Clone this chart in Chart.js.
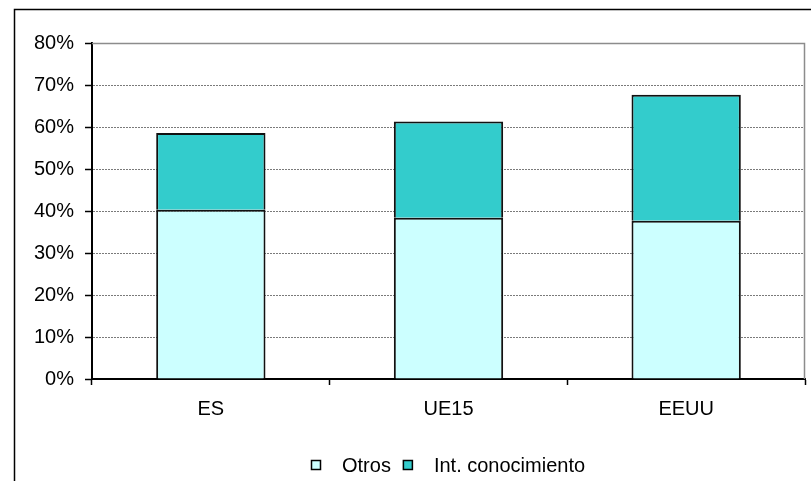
<!DOCTYPE html>
<html>
<head>
<meta charset="utf-8">
<script src="https://cdn.jsdelivr.net/npm/chart.js@4/dist/chart.umd.min.js"></script>
<style>
  html, body { margin: 0; padding: 0; background: #ffffff; }
  #wrap { width: 811px; height: 481px; position: relative; }
</style>
</head>
<body>
<div id="wrap"><canvas id="c" width="811" height="481"></canvas></div>
<script>
const categories = ['ES', 'UE15', 'EEUU'];
const otros = [40.3, 38.4, 37.7];
const intConocimiento = [18.3, 22.9, 30.0];
const seriesNames = ['Otros', 'Int. conocimiento'];
const yTicks = [0, 10, 20, 30, 40, 50, 60, 70, 80];

const FONT = '"Liberation Sans", Arial, sans-serif';

const framePlugin = {
  id: 'frame',
  beforeDatasetsDraw(chart) {
    const ctx = chart.ctx, a = chart.chartArea;
    ctx.save();
    ctx.strokeStyle = '#8c8c8c';
    ctx.lineWidth = 1.5;
    ctx.beginPath();
    ctx.moveTo(a.left, a.top + 0.5);
    ctx.lineTo(a.right - 0.5, a.top + 0.5);
    ctx.lineTo(a.right - 0.5, a.bottom);
    ctx.stroke();
    ctx.restore();
  },
  afterDraw(chart) {
    const ctx = chart.ctx, a = chart.chartArea;
    ctx.save();
    ctx.strokeStyle = '#000';
    ctx.lineWidth = 1.5;
    ctx.beginPath();
    ctx.moveTo(14.5, 481);
    ctx.lineTo(14.5, 9.5);
    ctx.lineTo(811, 9.5);
    ctx.stroke();
    ctx.font = '20px ' + FONT;
    ctx.textBaseline = 'middle';
    ctx.textAlign = 'left';
    const ds = chart.data.datasets;
    const box = 10, gap = 21, spacing = 12, ly = 465;
    let total = 0;
    ds.forEach((d, i) => {
      total += box + gap + ctx.measureText(d.label).width + (i < ds.length - 1 ? spacing : 0);
    });
    let x = Math.round((a.left + a.right) / 2 - total / 2);
    ds.forEach((d) => {
      ctx.fillStyle = d.backgroundColor;
      ctx.fillRect(x, ly - box / 2, box, box);
      ctx.strokeStyle = '#000';
      ctx.lineWidth = 1.5;
      ctx.strokeRect(x + 0.5, ly - box / 2 + 0.5, box - 1, box - 1);
      ctx.fillStyle = '#000';
      ctx.fillText(d.label, x + box + gap, ly + 1);
      x += box + gap + ctx.measureText(d.label).width + spacing;
    });
    ctx.restore();
  }
};

new Chart(document.getElementById('c'), {
  type: 'bar',
  data: {
    labels: categories,
    datasets: [
      { label: seriesNames[0], data: otros, backgroundColor: '#CCFFFF', borderColor: '#111', borderWidth: 2 },
      { label: seriesNames[1], data: intConocimiento, backgroundColor: '#33CCCC', borderColor: '#111', borderWidth: 2 }
    ]
  },
  options: {
    responsive: false,
    animation: false,
    events: [],
    layout: { padding: { left: 0, right: 6, top: 43, bottom: 0 } },
    plugins: { legend: { display: false }, tooltip: { enabled: false } },
    datasets: { bar: { categoryPercentage: 1.0, barPercentage: 0.46 } },
    scales: {
      x: {
        stacked: true,
        grid: { drawOnChartArea: false, tickLength: 6, tickColor: '#000', tickWidth: 1.5 },
        border: { color: '#000', width: 2 },
        ticks: { color: '#000', font: { family: FONT, size: 20 }, padding: 12 },
        afterFit(scale) { scale.height = 102; }
      },
      y: {
        stacked: true,
        min: 0,
        max: 80,
        afterBuildTicks(scale) { scale.ticks = yTicks.map(v => ({ value: v })); },
        grid: { color: '#7a7a7a', lineWidth: 1, tickLength: 7, tickColor: '#000', tickWidth: 1.5 },
        border: { color: '#000', width: 2, dash: [2, 1] },
        ticks: { color: '#000', font: { family: FONT, size: 20 }, padding: 11, callback: v => v + '%' },
        afterFit(scale) { scale.width = 92; }
      }
    }
  },
  plugins: [framePlugin]
});
</script>
</body>
</html>
